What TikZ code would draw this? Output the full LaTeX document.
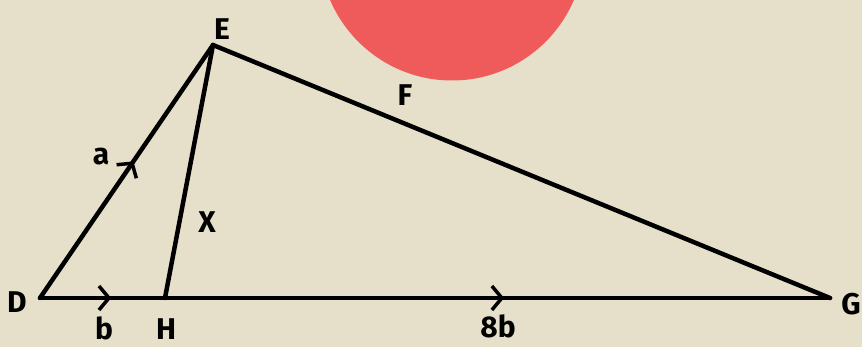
\documentclass[tikz,border=0pt]{standalone}
\usepackage{fontspec}
\setmainfont{Fira Sans}
\usetikzlibrary{arrows.meta,decorations.markings}
\definecolor{bg}{HTML}{E6E0CA}
\definecolor{sun}{HTML}{EF5B5B}
\tikzset{
  seg/.style={line width=4.5pt, line cap=round, line join=round},
  lbl/.style={font=\fontsize{30}{30}\selectfont\bfseries, inner sep=0pt},
  chev/.style={postaction={decorate, decoration={markings,
     mark=at position #1 with {\arrow{Straight Barb[length=10pt,width=24pt,line width=3.5pt]}}}}}
}
\begin{document}
\begin{tikzpicture}[x=1pt,y=-1pt]
\fill[bg] (0,0) rectangle (862,347);
\useasboundingbox (0,0) rectangle (862,347);
\begin{scope}
\clip (0,0) rectangle (862,347);
\fill[sun] (452,-52) circle (132.5);
\end{scope}
\coordinate (D) at (40,298);
\coordinate (E) at (213,45);
\coordinate (G) at (830,298);
\coordinate (H) at (165,298);
\draw[seg, chev=0.54] (D) -- (E);
\draw[seg] (E) -- (G);
\draw[seg] (E) -- (H);
\draw[seg, chev=0.57] (D) -- (H);
\draw[seg, chev=0.51] (H) -- (G);
\node[lbl] (lD) at (17,302) {D};
\node[lbl] (lE) at (222,29) {E};
\node[lbl] (lF) at (405,95) {F};
\node[lbl] (la) at (101,157) {a};
\node[lbl] (lX) at (207,222) {X};
\node[lbl] (lb) at (104,328) {b};
\node[lbl] (lH) at (166,329) {H};
\node[lbl] (l8b) at (498,326) {8b};
\node[lbl] (lG) at (851,304) {G};
\end{tikzpicture}
\end{document}
